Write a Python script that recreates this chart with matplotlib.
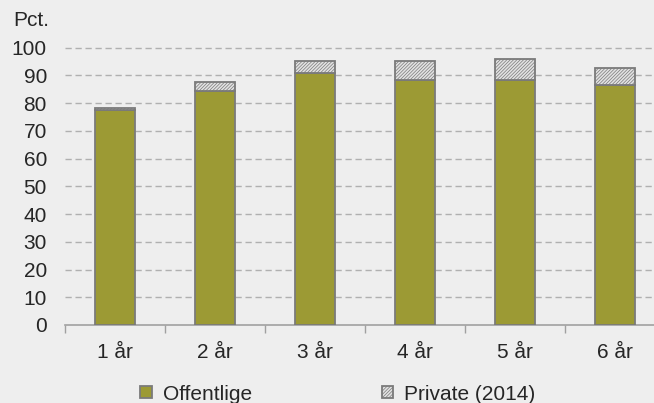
import matplotlib
matplotlib.use("Agg")
import matplotlib.pyplot as plt
import numpy as np

categories = ["1 år", "2 år", "3 år", "4 år", "5 år", "6 år"]
offentlige = [77.6, 84.3, 90.9, 88.2, 88.2, 86.5]
private = [0.7, 3.3, 4.4, 7.1, 7.6, 6.1]
yticks = [0, 10, 20, 30, 40, 50, 60, 70, 80, 90, 100]

plt.rcParams['font.family'] = ['Liberation Sans', 'DejaVu Sans']
plt.rcParams['hatch.color'] = '#a0a0a0'
plt.rcParams['hatch.linewidth'] = 0.5

bg = '#eeeeee'
text_c = '#262626'
W, H = 654, 403
fig = plt.figure(figsize=(W / 100, H / 100), dpi=100, facecolor=bg)
ax = fig.add_axes([65 / W, (H - 325) / H, 600 / W, 277.3 / H])
ax.set_facecolor(bg)

x = np.arange(len(categories)) + 0.5
b1 = ax.bar(x, offentlige, width=0.4, color='#9c9a34', edgecolor='#7a7a7a',
            linewidth=1.3, label='Offentlige', zorder=3)
b2 = ax.bar(x, private, width=0.4, bottom=offentlige, color='#e2e2e2',
            edgecolor='#7a7a7a', linewidth=1.3, hatch='//////////',
            label='Private (2014)', zorder=3)

ax.set_xlim(0, len(categories))
ax.set_ylim(0, 100)
ax.set_yticks(yticks)
ax.set_yticklabels([str(v) for v in yticks], fontsize=15, color=text_c)
ax.tick_params(axis='y', length=0, pad=13)

ax.set_xticks(np.arange(len(categories) + 1))
ax.set_xticklabels([])
ax.tick_params(axis='x', which='major', length=6, width=1, color='#a0a0a0', direction='out')
ax.set_xticks(x, minor=True)
ax.set_xticklabels(categories, minor=True, fontsize=15, color=text_c)
ax.tick_params(axis='x', which='minor', length=0, pad=13)

for v in yticks[1:]:
    ax.axhline(v, color='#b0b0b0', linewidth=1.0, linestyle=(0, (4.5, 2.7)), zorder=1, clip_on=False)

for s in ['top', 'right', 'left']:
    ax.spines[s].set_visible(False)
ax.spines['bottom'].set_color('#a0a0a0')
ax.spines['bottom'].set_linewidth(1.2)

fig.text(13 / W, 1 - 20 / H, 'Pct.', fontsize=15, color=text_c, va='center', ha='left')

leg = fig.legend(handles=[b1, b2], loc='center', bbox_to_anchor=(338 / W, 9 / H),
                 ncol=2, frameon=False, fontsize=15, handlelength=0.55, handleheight=0.55,
                 handletextpad=0.55, columnspacing=6.2, borderaxespad=0, borderpad=0)
for t in leg.get_texts():
    t.set_color(text_c)

fig.savefig('out.png', dpi=100, facecolor=bg)
